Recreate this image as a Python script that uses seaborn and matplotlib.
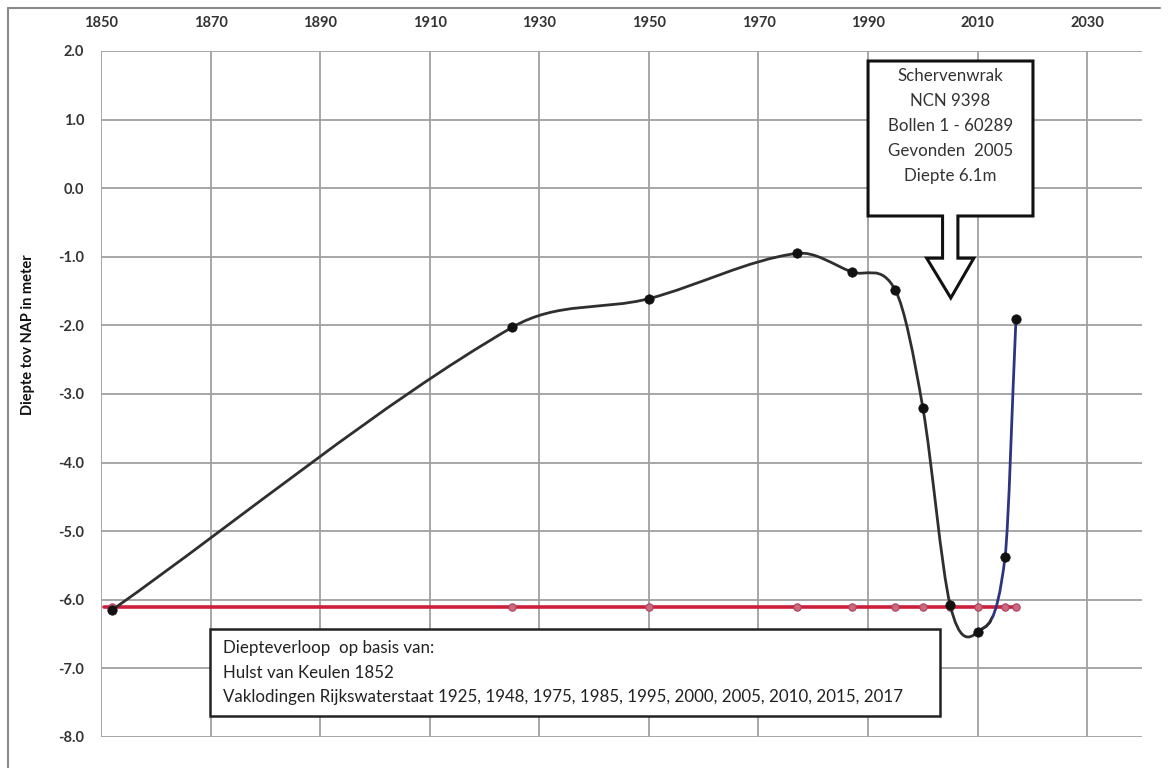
import numpy as np
import pandas as pd
import matplotlib
matplotlib.use("Agg")
import matplotlib.pyplot as plt
from matplotlib.path import Path
from matplotlib.patches import PathPatch, Polygon, Rectangle
from matplotlib.lines import Line2D
import seaborn as sns

# ---- data -------------------------------------------------------------
years = [1852, 1925, 1950, 1977, 1987, 1995, 2000, 2005, 2010, 2015, 2017]
depth = [-6.15, -2.03, -1.61, -0.95, -1.22, -1.49, -3.20, -6.08, -6.47, -5.38, -1.90]
wreck_depth = -6.1
x_ticks = [1850, 1870, 1890, 1910, 1930, 1950, 1970, 1990, 2010, 2030]
y_ticks = [2.0, 1.0, 0.0, -1.0, -2.0, -3.0, -4.0, -5.0, -6.0, -7.0, -8.0]
ylabel = "Diepte tov NAP in meter"
callout_text = "Schervenwrak\nNCN 9398\nBollen 1 - 60289\nGevonden  2005\nDiepte 6.1m"
source_text = ("Diepteverloop  op basis van:\n"
               "Hulst van Keulen 1852\n"
               "Vaklodingen Rijkswaterstaat 1925, 1948, 1975, 1985, 1995, 2000, 2005, 2010, 2015, 2017")

df = pd.DataFrame({"year": years, "depth": depth})
red_df = pd.DataFrame({"year": [1850.5] + years, "depth": [wreck_depth] * (len(years) + 1)})

# ---- style ------------------------------------------------------------
sns.set_style("white")
plt.rcParams["font.family"] = ["Lato", "DejaVu Sans"]

fig = plt.figure(figsize=(11.72, 7.68), dpi=100)
ax = fig.add_axes([101 / 1172, 1 - 737 / 768, 1041 / 1172, 686 / 768])
ax.set_xlim(1850, 2040)
ax.set_ylim(-8, 2)

grid_c = "#a0a0a0"
for xt in x_ticks:
    ax.axvline(xt, color=grid_c, lw=1.3, zorder=0)
for yt in y_ticks:
    ax.axhline(yt, color=grid_c, lw=1.3, zorder=0)
for s in ax.spines.values():
    s.set_visible(False)

# ---- smooth curve (Hermite/Bezier through the measured points) ----------
def bezier_segments(xs, ys):
    xs = np.asarray(xs, float); ys = np.asarray(ys, float)
    n = len(xs)
    slopes = np.empty(n)
    for i in range(n):
        a = max(i - 1, 0); b = min(i + 1, n - 1)
        slopes[i] = (ys[b] - ys[a]) / (xs[b] - xs[a])
    segs = []
    for i in range(n - 1):
        dx = xs[i + 1] - xs[i]
        p1 = np.array([xs[i], ys[i]])
        p2 = np.array([xs[i + 1], ys[i + 1]])
        c1 = p1 + np.array([dx / 3, slopes[i] * dx / 3])
        c2 = p2 - np.array([dx / 3, slopes[i + 1] * dx / 3])
        segs.append((p1, c1, c2, p2))
    return segs

segs = bezier_segments(years, depth)

def draw_seg(seg, color, clip=None):
    p1, c1, c2, p2 = seg
    path = Path([p1, c1, c2, p2], [Path.MOVETO, Path.CURVE4, Path.CURVE4, Path.CURVE4])
    patch = PathPatch(path, fill=False, edgecolor=color, lw=2.0, zorder=3, capstyle="round")
    ax.add_patch(patch)
    if clip is not None:
        patch.set_clip_path(clip)

dark = "#2f2f2f"
navy = "#2e3580"
for seg in segs[:-2]:
    draw_seg(seg, dark)
draw_seg(segs[-2], navy)
clip_rect = Rectangle((2009, -9), 3.6, 12, transform=ax.transData)
draw_seg(segs[-2], dark, clip=clip_rect)
draw_seg(segs[-1], navy)

# red wreck-depth line with markers
sns.lineplot(data=red_df, x="year", y="depth", color="#cc1f3a", lw=2.6, ax=ax, zorder=2)
sns.scatterplot(data=red_df.iloc[1:], x="year", y="depth", color="#c96a80", s=28,
                edgecolor="#b04060", linewidth=0.8, ax=ax, zorder=2.5)
# measured points
sns.scatterplot(data=df, x="year", y="depth", color="#111111", s=46, edgecolor="#111111",
                linewidth=0.5, ax=ax, zorder=4)

# axes text
ax.xaxis.tick_top()
ax.set_xticks(x_ticks)
ax.set_xticklabels([str(v) for v in x_ticks], fontsize=10.5, fontweight="bold", color="#333333")
ax.tick_params(axis="x", length=0, pad=15)
ax.set_yticks(y_ticks)
ax.set_yticklabels([f"{v:.1f}" for v in y_ticks], fontsize=10.5, fontweight="bold", color="#333333")
ax.tick_params(axis="y", length=5, color=grid_c, pad=7)
ax.set_xlabel("")
ax.set_ylabel(ylabel, fontsize=10.5, fontweight="bold", color="#111111")
ax.yaxis.set_label_coords(-0.0634, 0.587)

# ---- callout (down-arrow box) -------------------------------------------
verts = [(1990, 1.854), (2020.1, 1.854), (2020.1, -0.405), (2006.4, -0.405), (2006.4, -1.02),
         (2009.3, -1.02), (2005.1, -1.60), (2000.7, -1.02), (2003.6, -1.02), (2003.6, -0.405),
         (1990, -0.405)]
ax.add_patch(Polygon(verts, closed=True, facecolor="white", edgecolor="#111111", lw=2.2, zorder=5))
ax.text(2005.0, 0.905, callout_text, ha="center", va="center", fontsize=12.2,
        color="#333333", linespacing=1.68, zorder=6)

# ---- source box -------------------------------------------------------
ax.add_patch(Rectangle((1869.9, -7.69), 133.2, 1.26, facecolor="white", edgecolor="#222222",
                       lw=1.8, zorder=5))
ax.text(1872.3, -7.06, source_text, ha="left", va="center", fontsize=12.2,
        color="#222222", linespacing=1.62, zorder=6)

# outer chart border (left and top)
fig.add_artist(Line2D([8 / 1172, 8 / 1172], [0, 1 - 8 / 768], color="#8a8a8a", lw=1.5))
fig.add_artist(Line2D([8 / 1172, 1160 / 1172], [1 - 8 / 768, 1 - 8 / 768], color="#8a8a8a", lw=1.5))

fig.savefig("out.png", dpi=100, facecolor="white")
